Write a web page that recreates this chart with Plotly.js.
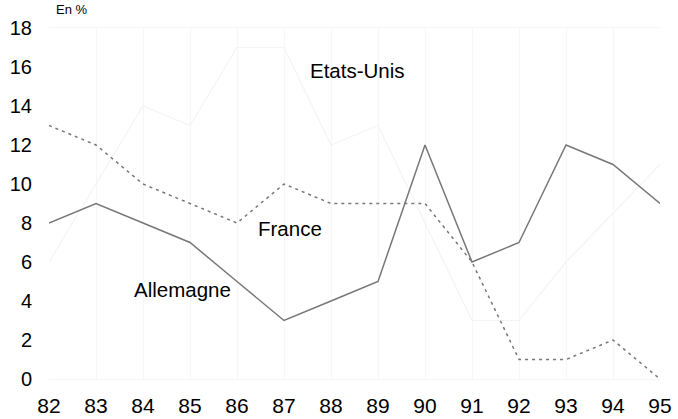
<!DOCTYPE html>
<html>
<head>
<meta charset="utf-8">
<script src="https://cdn.plot.ly/plotly-3.0.1.min.js"></script>
<style>html,body{margin:0;padding:0;background:#fff;}#chart{width:678px;height:419px;}</style>
</head>
<body>
<div id="chart"></div>
<script>
const years = [82, 83, 84, 85, 86, 87, 88, 89, 90, 91, 92, 93, 94, 95];
const yearLabels = ["82","83","84","85","86","87","88","89","90","91","92","93","94","95"];
const etatsUnis = [6, 10, 14, 13, 17, 17, 12, 13, 8, 3, 3, 6, 8.5, 11];
const france = [13, 12, 10, 9, 8, 10, 9, 9, 9, 6, 1, 1, 2, 0];
const allemagne = [8, 9, 8, 7, 5, 3, 4, 5, 12, 6, 7, 12, 11, 9];
const yTicks = [0, 2, 4, 6, 8, 10, 12, 14, 16, 18];

const font = "Liberation Sans, Arial, sans-serif";
const traces = [
  {x: years, y: etatsUnis, mode: 'lines', name: 'Etats-Unis', line: {color: '#f4f4f4', width: 1.2}},
  {x: years, y: france, mode: 'lines', name: 'France', line: {color: '#777777', width: 1.5, dash: '3px,4px'}},
  {x: years, y: allemagne, mode: 'lines', name: 'Allemagne', line: {color: '#777777', width: 1.5}}
];
const layout = {
  width: 678, height: 419,
  margin: {l: 49, r: 18, t: 28, b: 40},
  paper_bgcolor: '#ffffff', plot_bgcolor: '#ffffff',
  showlegend: false,
  font: {family: font, color: '#000', size: 20},
  xaxis: {
    range: [82, 95], tickvals: years, ticktext: yearLabels,
    showgrid: true, gridcolor: '#f7f7f7', gridwidth: 1,
    zeroline: false, showline: true, linecolor: '#f6f6f6', mirror: true,
    ticks: 'outside', ticklen: 8, tickcolor: 'rgba(0,0,0,0)',
    tickfont: {family: font, size: 21, color: '#000'}, fixedrange: true
  },
  yaxis: {
    range: [0, 18], tickvals: yTicks,
    showgrid: false, zeroline: false, showline: false,
    ticks: 'outside', ticklen: 12, tickcolor: 'rgba(0,0,0,0)',
    tickfont: {family: font, size: 20, color: '#000'}, fixedrange: true
  },
  annotations: [
    {text: 'En %', xref: 'paper', yref: 'paper', x: 0.008, y: 1.025, xanchor: 'left', yanchor: 'bottom', showarrow: false, font: {family: font, size: 13, color: '#000'}},
    {text: 'Etats-Unis', xref: 'x', yref: 'y', x: 88.57, y: 15.8, showarrow: false, font: {family: font, size: 20.5, color: '#000'}},
    {text: 'France', xref: 'x', yref: 'y', x: 87.13, y: 7.7, showarrow: false, font: {family: font, size: 20.5, color: '#000'}},
    {text: 'Allemagne', xref: 'x', yref: 'y', x: 84.83, y: 4.6, showarrow: false, font: {family: font, size: 20.5, color: '#000'}}
  ]
};
Plotly.newPlot('chart', traces, layout, {displayModeBar: false, staticPlot: true});
</script>
</body>
</html>
